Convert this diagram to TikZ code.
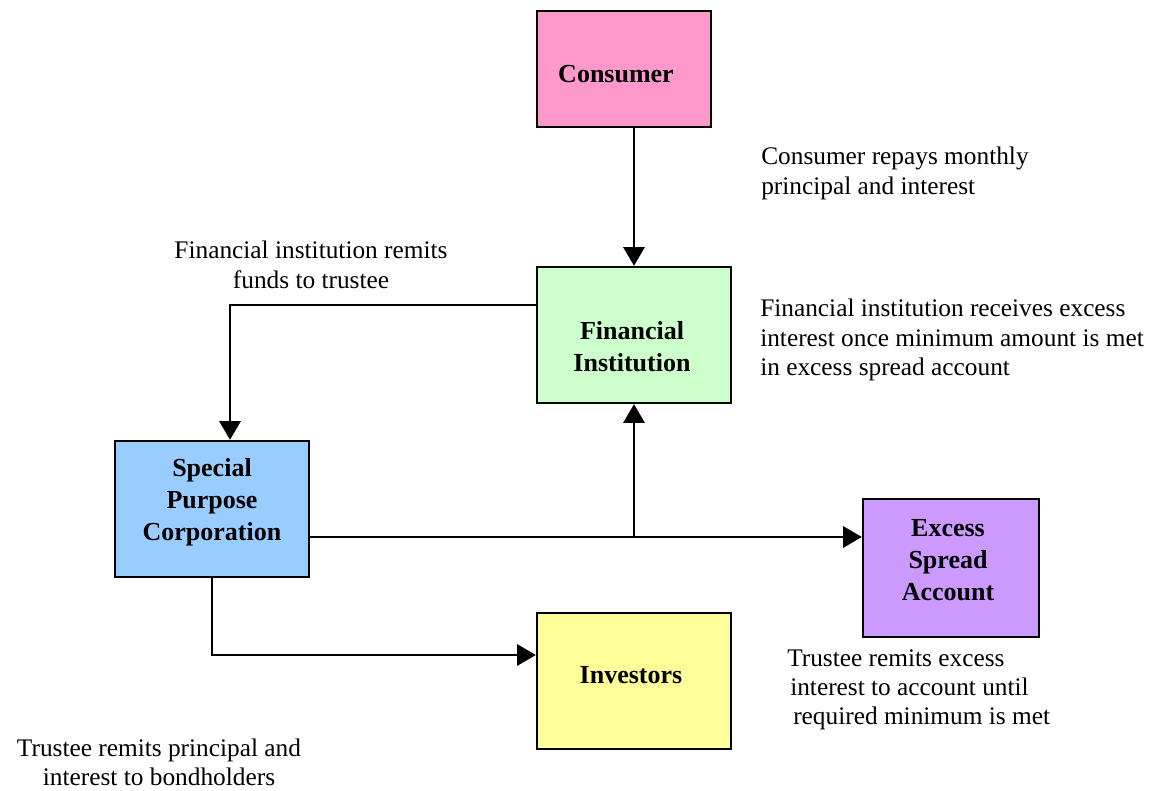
\documentclass[tikz,border=0pt]{standalone}
\usepackage{fontspec}
\setmainfont{Liberation Serif}
\usepackage{xcolor}
\usetikzlibrary{arrows.meta}

\definecolor{consumerpink}{HTML}{FF99CC}
\definecolor{fingreen}{HTML}{CCFFCC}
\definecolor{spcblue}{HTML}{99CCFF}
\definecolor{excesspurple}{HTML}{CC99FF}
\definecolor{investyellow}{HTML}{FFFF99}

\begin{document}
\begin{tikzpicture}[x=0.75pt,y=0.75pt,yscale=-1,xscale=1]
    \tikzset{
      party/.style={draw, line width=1.8pt, inner sep=0pt},
      boxtext/.style={align=center, inner sep=0pt,
        font=\fontsize{19.5}{24}\selectfont\bfseries},
      flow/.style={line width=1.5pt, -{Triangle[length=14pt,width=16pt]}},
      note/.style={inner sep=0pt, font=\fontsize{19}{22}\selectfont}
    }
    %set diagram size to 1149 x 791
    \path (0,0) rectangle (1149,791);
    
    %Boxes
    \node[party, fill=consumerpink, minimum width=130.5pt, minimum height=87pt,
      label={[boxtext, shift={(-8,-5)}]center:Consumer}] (cons) at (624,69) {};
    \node[party, fill=fingreen, minimum width=145.5pt, minimum height=102pt,
      label={[boxtext, shift={(-2,-12)}]center:Financial\\Institution}] (fin) at (634,335) {};
    \node[party, fill=spcblue, minimum width=145.5pt, minimum height=102pt,
      label={[boxtext, shift={(0,7)}]center:Special\\Purpose\\Corporation}] (spc) at (212,509) {};
    \node[party, fill=excesspurple, minimum width=132pt, minimum height=103.5pt,
      label={[boxtext, shift={(-3,8)}]center:Excess\\Spread\\Account}] (excess) at (951,568) {};
    \node[party, fill=investyellow, minimum width=145.5pt, minimum height=102pt,
      label={[boxtext, shift={(-3,6)}]center:Investors}] (inv) at (634,681) {};
    
    %Bend points
    \coordinate (remitturn) at (230,305);
    \coordinate (split) at (633,537);
    \coordinate (payturn) at (212,655);
    
    %Connectors
    \draw[flow] (cons.south -| fin.north) -- (fin.north);
    \draw[flow] (fin.west |- remitturn) -- (remitturn) -- (remitturn |- spc.north);
    \draw[flow] (spc.east |- split) -- (excess.west |- split);
    \draw[flow] (fin.south |- split) -- (fin.south);
    \draw[flow] (spc.south) -- (payturn) -- (inv.west |- payturn);
    
    % Text Node
    \node[note, anchor=north west, align=left] (repaysnote) at (761,147) {Consumer repays monthly\\principal and interest};
    % Text Node
    \node[note, align=center] (remitsnote) at (311,265) {Financial institution remits\\funds to trustee};
    % Text Node
    \node[note, anchor=north west, align=left] (receivesnote) at (760,299) {Financial institution receives excess\\interest once minimum amount is met\\in excess spread account};
    % Text Node
    \node[note, anchor=north west, align=left] (excessnote) at (787,649) {Trustee remits excess\\\hspace*{2.25pt}interest to account until\\\hspace*{4.5pt}required minimum is met};
    % Text Node
    \node[note, align=center] (bondnote) at (159,762) {Trustee remits principal and\\interest to bondholders};
\end{tikzpicture}
\end{document}
